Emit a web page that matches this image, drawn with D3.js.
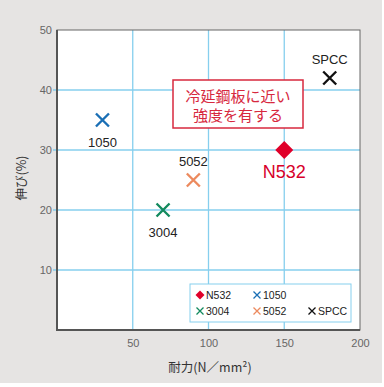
<!DOCTYPE html>
<html>
<head>
<meta charset="utf-8">
<script src="https://cdn.jsdelivr.net/npm/d3@7"></script>
<style>
  body { margin: 0; background: #fff; }
  svg { display: block; font-family: "Liberation Sans", Arial, sans-serif; }
</style>
</head>
<body>
<svg id="chart" width="384" height="387"></svg>
<script>
// data
var names = ['N532', '1050', '3004', '5052', 'SPCC'];
var strength = [150, 30, 70, 90, 180];
var elongation = [30, 35, 20, 25, 42];
var colors = ['#e0002a', '#1a6fb5', '#138a5e', '#ec8a5e', '#111111'];
var xTicks = [50, 100, 150, 200];
var yTicks = [10, 20, 30, 40, 50];
var noteLines = ['冷延鋼板に近い', '強度を有する'];

var svg = d3.select('#chart');

// background
svg.append('rect')
  .attr('x', 0).attr('y', 0)
  .attr('width', 382).attr('height', 383)
  .attr('fill', '#e6e4e3');

var x = d3.scaleLinear().domain([0, 200]).range([57, 360]);
var y = d3.scaleLinear().domain([0, 50]).range([330, 30]);

// plot area
svg.append('rect')
  .attr('x', x(0)).attr('y', y(50))
  .attr('width', x(200) - x(0)).attr('height', y(0) - y(50))
  .attr('fill', '#fff');

// grid lines
svg.append('g').selectAll('line')
  .data(xTicks.slice(0, -1))
  .enter().append('line')
  .attr('x1', function(d) { return x(d); })
  .attr('x2', function(d) { return x(d); })
  .attr('y1', y(50)).attr('y2', y(0))
  .attr('stroke', '#86cfee').attr('stroke-width', 1.3);

svg.append('g').selectAll('line')
  .data(yTicks.slice(0, -1))
  .enter().append('line')
  .attr('y1', function(d) { return y(d); })
  .attr('y2', function(d) { return y(d); })
  .attr('x1', x(0) - 4).attr('x2', x(200))
  .attr('stroke', '#86cfee').attr('stroke-width', 1.3);

// frame
svg.append('rect')
  .attr('x', x(0)).attr('y', y(50))
  .attr('width', x(200) - x(0)).attr('height', y(0) - y(50))
  .attr('fill', 'none').attr('stroke', '#666').attr('stroke-width', 1);
svg.append('path')
  .attr('d', 'M' + x(0) + ',' + y(50) + 'V' + y(0) + 'H' + x(200))
  .attr('fill', 'none').attr('stroke', '#555').attr('stroke-width', 2);

// axes
var xAxis = svg.append('g')
  .attr('transform', 'translate(0,' + y(0) + ')')
  .call(d3.axisBottom(x).tickValues(xTicks).tickSize(0).tickPadding(9));
var yAxis = svg.append('g')
  .attr('transform', 'translate(' + x(0) + ',0)')
  .call(d3.axisLeft(y).tickValues(yTicks).tickSize(0).tickPadding(5));
[xAxis, yAxis].forEach(function(a) {
  a.select('.domain').remove();
  a.selectAll('text')
    .attr('fill', '#666')
    .style('font-size', '11px')
    .style('font-family', '"Liberation Sans", Arial, sans-serif');
});

// axis titles
svg.append('text')
  .attr('x', 210).attr('y', 372)
  .attr('text-anchor', 'middle')
  .attr('fill', '#333')
  .style('font-size', '12.5px')
  .style('font-family', '"Noto Sans CJK JP", sans-serif')
  .text('耐力(N／mm²)');

svg.append('text')
  .attr('transform', 'translate(26,178) rotate(-90)')
  .attr('text-anchor', 'middle')
  .attr('fill', '#333')
  .style('font-size', '12.5px')
  .style('font-family', '"Noto Sans CJK JP", sans-serif')
  .text('伸び(%)');

// annotation box
svg.append('rect')
  .attr('x', 173).attr('y', 80)
  .attr('width', 130).attr('height', 48)
  .attr('fill', '#fff').attr('stroke', '#d7283e').attr('stroke-width', 1.5);
svg.append('g').selectAll('text')
  .data(noteLines)
  .enter().append('text')
  .attr('x', 238)
  .attr('y', function(d, i) { return 102 + i * 19; })
  .attr('text-anchor', 'middle')
  .attr('fill', '#d7283e')
  .style('font-size', '15px')
  .style('font-family', '"Noto Sans CJK JP", sans-serif')
  .text(function(d) { return d; });

// markers
function cross(g, s, color, w) {
  g.append('path')
    .attr('d', 'M' + (-s) + ',' + (-s) + 'L' + s + ',' + s + 'M' + (-s) + ',' + s + 'L' + s + ',' + (-s))
    .attr('stroke', color).attr('stroke-width', w).attr('fill', 'none');
}
function diamond(g, s, color) {
  g.append('path')
    .attr('d', 'M0,' + (-s) + 'L' + s + ',0L0,' + s + 'L' + (-s) + ',0Z')
    .attr('fill', color);
}

var points = names.map(function(n, i) {
  return { name: n, x: strength[i], y: elongation[i], color: colors[i] };
});

var node = svg.selectAll('.pt')
  .data(points)
  .enter().append('g')
  .attr('class', 'pt')
  .attr('transform', function(d) { return 'translate(' + x(d.x) + ',' + y(d.y) + ')'; });

node.each(function(d, i) {
  var g = d3.select(this);
  if (i === 0) diamond(g, 9, d.color);
  else cross(g, 6.5, d.color, 2.4);
});

// point labels
var labelPos = {
  'N532': [0, 28, '18px', '#d7002a'],
  '1050': [0, 27, '13px', '#222'],
  '3004': [0, 27, '13px', '#222'],
  '5052': [0, -14, '13px', '#222'],
  'SPCC': [0, -14, '13px', '#222']
};
node.append('text')
  .attr('x', function(d) { return labelPos[d.name][0]; })
  .attr('y', function(d) { return labelPos[d.name][1]; })
  .attr('text-anchor', 'middle')
  .attr('fill', function(d) { return labelPos[d.name][3]; })
  .style('font-size', function(d) { return labelPos[d.name][2]; })
  .text(function(d) { return d.name; });

// legend
svg.append('rect')
  .attr('x', 190).attr('y', 284)
  .attr('width', 161).attr('height', 38)
  .attr('fill', '#fff').attr('stroke', '#86cfee').attr('stroke-width', 1);

var legendPos = [[200, 295], [257, 295], [200, 311], [257, 311], [312, 311]];
var legend = svg.selectAll('.leg')
  .data(points)
  .enter().append('g')
  .attr('class', 'leg')
  .attr('transform', function(d, i) { return 'translate(' + legendPos[i][0] + ',' + legendPos[i][1] + ')'; });

legend.each(function(d, i) {
  var g = d3.select(this);
  if (i === 0) diamond(g, 4.5, d.color);
  else cross(g, 3.5, d.color, 1.3);
});
legend.append('text')
  .attr('x', 6).attr('y', 4)
  .attr('fill', '#222')
  .style('font-size', '10.5px')
  .text(function(d) { return d.name; });
</script>
</body>
</html>
